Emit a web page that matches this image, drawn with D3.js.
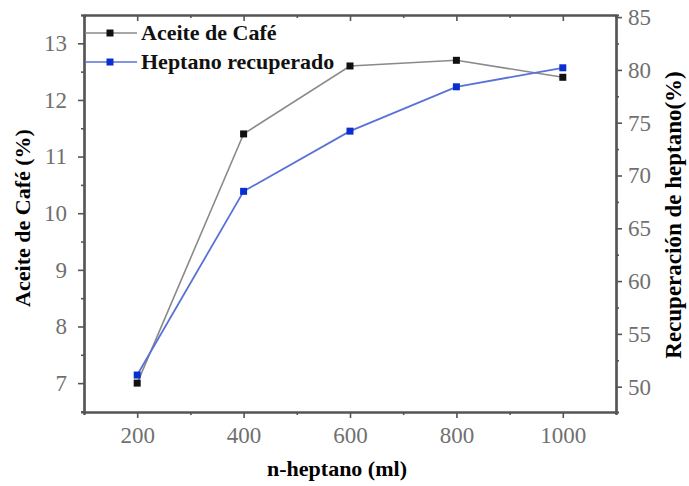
<!DOCTYPE html>
<html>
<head>
<meta charset="utf-8">
<script src="https://cdn.jsdelivr.net/npm/d3@7"></script>
<style>
  body { margin: 0; background: #fff; }
  svg text { font-family: "Liberation Serif", "DejaVu Serif", serif; }
</style>
</head>
<body>
<svg id="chart"></svg>
<script>
let w = 689
let h = 486
let m = {left: 84, right: 73, top: 15, bottom: 74}

// data
let heptano = [200, 400, 600, 800, 1000]
let aceite = [7.0, 11.4, 12.6, 12.7, 12.4]
let recuperado = [51.1, 68.5, 74.2, 78.4, 80.2]

let xTicks = [200, 400, 600, 800, 1000]
let xMinor = [100, 300, 500, 700, 900, 1100]
let yLeftTicks = [7, 8, 9, 10, 11, 12, 13]
let yLeftMinor = [6.5, 7.5, 8.5, 9.5, 10.5, 11.5, 12.5, 13.5]
let yRightTicks = [50, 55, 60, 65, 70, 75, 80, 85]
let yRightMinor = [52.5, 57.5, 62.5, 67.5, 72.5, 77.5, 82.5]

let seriesNames = ['Aceite de Café', 'Heptano recuperado']

let axisColor = '#555'
let tickColor = '#707070'
let serif = '"Liberation Serif", "DejaVu Serif", serif'

let svg = d3.select('#chart').attr('width', w).attr('height', h)

let xScale = d3.scaleLinear().domain([100, 1100]).range([m.left, w - m.right])
let yLeft = d3.scaleLinear().domain([6.49, 13.5]).range([h - m.bottom, m.top])
let yRight = d3.scaleLinear().domain([47.6, 85.2]).range([h - m.bottom, m.top])

// axes (major + minor)
let styleAxis = (g) => {
  g.attr('font-family', serif)
  g.select('.domain').attr('stroke', axisColor).attr('stroke-width', 2.2)
  g.selectAll('.tick line').attr('stroke', axisColor).attr('stroke-width', 1.6)
  g.selectAll('.tick text').attr('fill', tickColor).style('font-size', '23px')
}

let minor = (axis) => axis.tickFormat('').tickSizeOuter(0).tickSize(3)
let fmt = d3.format('d')

svg.append('g').attr('transform', 'translate(0,' + (h - m.bottom) + ')')
   .call(minor(d3.axisBottom(xScale).tickValues(xMinor))).call(styleAxis)
svg.append('g').attr('transform', 'translate(0,' + (h - m.bottom) + ')')
   .call(d3.axisBottom(xScale).tickValues(xTicks).tickFormat(fmt).tickSize(6).tickSizeOuter(0).tickPadding(9))
   .call(styleAxis)

// top frame with inward ticks
svg.append('g').attr('transform', 'translate(0,' + m.top + ')')
   .call(minor(d3.axisBottom(xScale).tickValues(xMinor))).call(styleAxis)
svg.append('g').attr('transform', 'translate(0,' + m.top + ')')
   .call(d3.axisBottom(xScale).tickValues(xTicks).tickSize(6).tickSizeOuter(0).tickFormat(''))
   .call(styleAxis)

svg.append('g').attr('transform', 'translate(' + m.left + ',0)')
   .call(minor(d3.axisLeft(yLeft).tickValues(yLeftMinor))).call(styleAxis)
svg.append('g').attr('transform', 'translate(' + m.left + ',0)')
   .call(d3.axisLeft(yLeft).tickValues(yLeftTicks).tickFormat(fmt).tickSize(6).tickSizeOuter(0).tickPadding(11))
   .call(styleAxis)

svg.append('g').attr('transform', 'translate(' + (w - m.right) + ',0)')
   .call(minor(d3.axisRight(yRight).tickValues(yRightMinor))).call(styleAxis)
svg.append('g').attr('transform', 'translate(' + (w - m.right) + ',0)')
   .call(d3.axisRight(yRight).tickValues(yRightTicks).tickFormat(fmt).tickSize(6).tickSizeOuter(0).tickPadding(6))
   .call(styleAxis)

// axis titles
svg.append('text').attr('x', 337).attr('y', 476)
   .attr('text-anchor', 'middle').attr('font-weight', 'bold').style('font-size', '22px')
   .text('n-heptano (ml)')
svg.append('text').attr('transform', 'translate(30,218) rotate(-90)')
   .attr('text-anchor', 'middle').attr('font-weight', 'bold').style('font-size', '22px')
   .text('Aceite de Café (%)')
svg.append('text').attr('transform', 'translate(681,215) rotate(-90)')
   .attr('text-anchor', 'middle').attr('font-weight', 'bold').style('font-size', '23px')
   .text('Recuperación de heptano(%)')

// lines + markers
let lineL = d3.line().x((d, i) => xScale(heptano[i])).y(d => yLeft(d))
let lineR = d3.line().x((d, i) => xScale(heptano[i])).y(d => yRight(d))

svg.append('path').datum(aceite).attr('d', lineL)
   .attr('fill', 'none').attr('stroke', '#8a8a8a').attr('stroke-width', 1.6)
svg.append('path').datum(recuperado).attr('d', lineR)
   .attr('fill', 'none').attr('stroke', '#5a72d8').attr('stroke-width', 1.8)

let sq = 7
svg.selectAll('.mA').data(aceite).enter().append('rect')
   .attr('x', (d, i) => xScale(heptano[i]) - sq / 2).attr('y', d => yLeft(d) - sq / 2)
   .attr('width', sq).attr('height', sq).attr('fill', '#111')
svg.selectAll('.mB').data(recuperado).enter().append('rect')
   .attr('x', (d, i) => xScale(heptano[i]) - sq / 2).attr('y', d => yRight(d) - sq / 2)
   .attr('width', sq).attr('height', sq).attr('fill', '#0a2fd0')

// legend
let legend = svg.append('g')
let legendColors = [['#8a8a8a', '#111'], ['#5a72d8', '#0a2fd0']]
seriesNames.forEach((name, i) => {
  let y = 33 + i * 29
  legend.append('line').attr('x1', m.left + 1).attr('x2', 137).attr('y1', y).attr('y2', y)
        .attr('stroke', legendColors[i][0]).attr('stroke-width', 1.6)
  legend.append('rect').attr('x', 110 - sq / 2).attr('y', y - sq / 2).attr('width', sq).attr('height', sq)
        .attr('fill', legendColors[i][1])
  legend.append('text').attr('x', 141).attr('y', y + 7).attr('font-weight', 'bold')
        .style('font-size', '22px').attr('fill', '#111').text(name)
})
</script>
</body>
</html>
